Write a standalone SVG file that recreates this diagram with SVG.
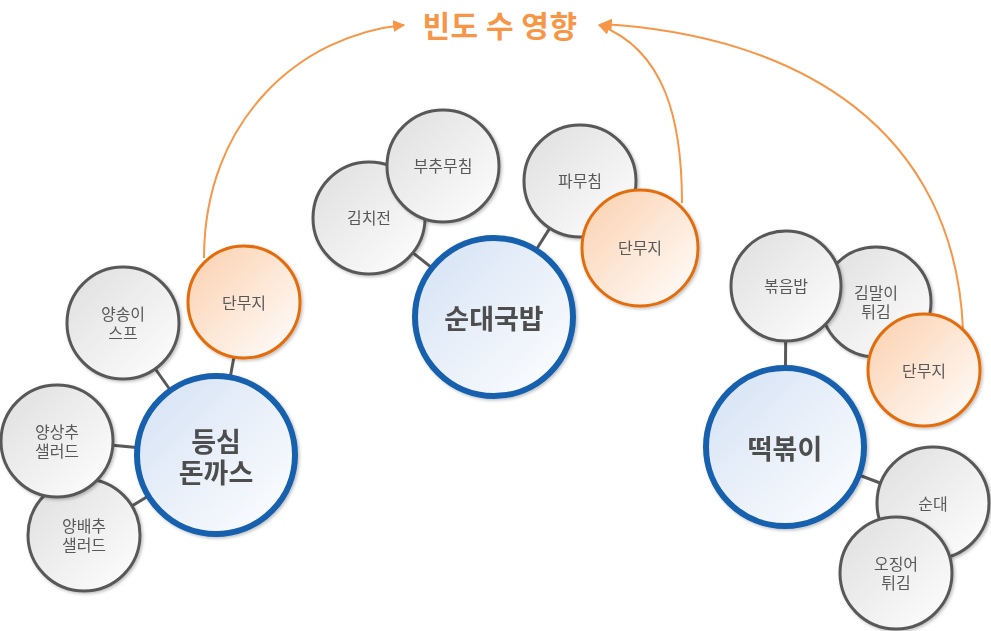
<svg xmlns="http://www.w3.org/2000/svg" width="991" height="631" viewBox="0 0 991 631">
<defs>
<style>
.gray{fill:url(#gGray);stroke:#595959;stroke-width:3}
.orange{fill:url(#gOrange);stroke:#e36c0a;stroke-width:3}
.main{fill:url(#gBlue);stroke:#1560ae;stroke-width:6}
.sh{filter:url(#shadow)}
.t{font-family:"Noto Sans CJK KR","Noto Sans",sans-serif;font-size:16px;fill:#595959;text-anchor:middle;dominant-baseline:central}
.tb{font-family:"Noto Sans CJK KR","Noto Sans",sans-serif;font-size:27px;font-weight:bold;fill:#4d4d4d;text-anchor:middle;dominant-baseline:central}
.link{stroke:#595959;stroke-width:3;fill:none}
.arr{stroke:#f79646;stroke-width:2;fill:none;marker-end:url(#ah)}
.title{font-family:"Noto Sans CJK KR","Noto Sans",sans-serif;font-size:30px;font-weight:bold;text-anchor:middle;letter-spacing:0.5px}
</style>
<linearGradient id="gGray" x1="0" y1="0" x2="1" y2="1">
<stop offset="0" stop-color="#dedede"/><stop offset="1" stop-color="#ffffff"/>
</linearGradient>
<linearGradient id="gOrange" x1="0" y1="0" x2="1" y2="1">
<stop offset="0" stop-color="#fbcfac"/><stop offset="1" stop-color="#ffffff"/>
</linearGradient>
<linearGradient id="gBlue" x1="0" y1="0" x2="1" y2="1">
<stop offset="0" stop-color="#d3e1f4"/><stop offset="1" stop-color="#ffffff"/>
</linearGradient>
<filter id="shadow" x="-20%" y="-20%" width="140%" height="140%">
<feDropShadow dx="1.5" dy="1.5" stdDeviation="1.5" flood-color="#000" flood-opacity="0.25"/>
</filter>
<marker id="ah" viewBox="0 0 10 10" refX="9" refY="5" markerWidth="6" markerHeight="6" orient="auto" markerUnits="strokeWidth">
<path d="M0,0 L10,5 L0,10 z" fill="#f79646"/>
</marker>
</defs>
<rect width="991" height="631" fill="#ffffff"/>

<g id="title">
<text class="title" x="500" y="37" fill="#f79646">빈도 수 영향</text>
</g>

<g id="connectors">
<line class="link" x1="123" y1="323" x2="216" y2="455"/>
<line class="link" x1="244" y1="302" x2="216" y2="455"/>
<line class="link" x1="57" y1="440" x2="216" y2="455"/>
<line class="link" x1="84" y1="535" x2="216" y2="455"/>
<line class="link" x1="369" y1="218" x2="494" y2="317"/>
<line class="link" x1="580" y1="180" x2="494" y2="317"/>
<line class="link" x1="786" y1="286" x2="785" y2="447"/>
<line class="link" x1="933" y1="503" x2="785" y2="447"/>
<path class="arr" d="M204,258 C204,120 300,35 404,25"/>
<path class="arr" d="M682,203 C682,120 665,50 599,25"/>
<path class="arr" d="M963,330 C955,130 800,35 601,24"/>
</g>

<g id="n-yangbaechu" class="sh"><circle class="gray" cx="84" cy="535" r="56"/><text class="t"><tspan x="84" y="525">양배추</tspan><tspan x="84" y="544">샐러드</tspan></text></g>
<g id="n-yangsangchu" class="sh"><circle class="gray" cx="57" cy="441" r="56"/><text class="t"><tspan x="57" y="431">양상추</tspan><tspan x="57" y="450">샐러드</tspan></text></g>
<g id="n-yangsongi" class="sh"><circle class="gray" cx="123" cy="323" r="56"/><text class="t"><tspan x="123" y="313">양송이</tspan><tspan x="123" y="332">스프</tspan></text></g>
<g id="n-danmuji1" class="sh"><circle class="orange" cx="244" cy="302" r="56"/><text class="t" x="244" y="302">단무지</text></g>
<g id="n-deungsim" class="sh"><circle class="main" cx="216" cy="455" r="79"/><text class="tb"><tspan x="216" y="440">등심</tspan><tspan x="216" y="471">돈까스</tspan></text></g>

<g id="n-kimchijeon" class="sh"><circle class="gray" cx="369" cy="218" r="56"/><text class="t" x="369" y="217">김치전</text></g>
<g id="n-buchu" class="sh"><circle class="gray" cx="443" cy="166" r="56"/><text class="t" x="443" y="165">부추무침</text></g>
<g id="n-pamuchim" class="sh"><circle class="gray" cx="580" cy="181" r="56"/><text class="t" x="580" y="180">파무침</text></g>
<g id="n-danmuji2" class="sh"><circle class="orange" cx="640" cy="248" r="58"/><text class="t" x="640" y="247">단무지</text></g>
<g id="n-sundaegukbap" class="sh"><circle class="main" cx="494" cy="317" r="79"/><text class="tb" x="494" y="317">순대국밥</text></g>

<g id="n-gimmari" class="sh"><circle class="gray" cx="876" cy="302" r="55"/><text class="t"><tspan x="876" y="292">김말이</tspan><tspan x="876" y="311">튀김</tspan></text></g>
<g id="n-bokkeumbap" class="sh"><circle class="gray" cx="786" cy="286" r="55"/><text class="t" x="786" y="285">볶음밥</text></g>
<g id="n-danmuji3" class="sh"><circle class="orange" cx="924" cy="370" r="56"/><text class="t" x="924" y="370">단무지</text></g>
<g id="n-sundae" class="sh"><circle class="gray" cx="933" cy="503" r="56"/><text class="t" x="933" y="503">순대</text></g>
<g id="n-ojingeo" class="sh"><circle class="gray" cx="896" cy="573" r="56"/><text class="t"><tspan x="896" y="563">오징어</tspan><tspan x="896" y="582">튀김</tspan></text></g>
<g id="n-tteokbokki" class="sh"><circle class="main" cx="785" cy="447" r="79"/><text class="tb" x="785" y="447">떡볶이</text></g>
</svg>
